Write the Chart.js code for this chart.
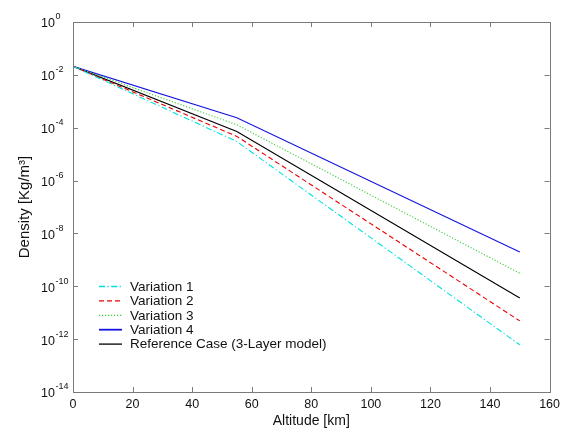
<!DOCTYPE html>
<html lang="en">
<head>
    <meta charset="UTF-8">
    <title>Density vs Altitude</title>
    <style>
        body {
            margin: 0;
            background: #fff;
        }
        #wrap {
            width: 565px;
            height: 431px;
        }
    </style>
</head>
<body>
    <div id="wrap"><canvas id="densityChart" width="565" height="431"></canvas></div>

    <script src="https://cdn.jsdelivr.net/npm/chart.js@4.4.3/dist/chart.umd.min.js"></script>
    <script>
        // altitude breakpoints [km] and densities [kg/m3]
        const altitude = [0, 55, 150];
        const variation1 = [2.1e-2, 3.0e-5, 6.1e-13];
        const variation2 = [2.1e-2, 4.7e-5, 4.9e-12];
        const variation3 = [2.1e-2, 1.3e-4, 3.1e-10];
        const variation4 = [2.1e-2, 2.4e-4, 2.0e-9];
        const referenceCase = [2.1e-2, 7.2e-5, 3.6e-11];

        const seriesLabels = ['Variation 1', 'Variation 2', 'Variation 3', 'Variation 4', 'Reference Case (3-Layer model)'];
        const xTicks = [0, 20, 40, 60, 80, 100, 120, 140, 160];
        const yExponents = [0, -2, -4, -6, -8, -10, -12, -14];

        const FONT = '"Liberation Sans", Arial, sans-serif';
        const AXIS_COLOR = '#7a7a7a';

        function toPoints(values) {
            return values.map((v, i) => ({ x: altitude[i], y: v }));
        }

        function makeDataset(label, values, color, dash) {
            return {
                label: label,
                data: toPoints(values),
                borderColor: color,
                borderWidth: 1.1,
                borderDash: dash,
                pointRadius: 0,
                fill: false,
                tension: 0
            };
        }

        const datasets = [
            makeDataset(seriesLabels[0], variation1, '#00e0e0', [6, 2.5, 1.2, 2.5]),
            makeDataset(seriesLabels[1], variation2, '#e80000', [5, 3]),
            makeDataset(seriesLabels[2], variation3, '#3ad03a', [1.2, 1.8]),
            makeDataset(seriesLabels[3], variation4, '#1414e0', []),
            makeDataset(seriesLabels[4], referenceCase, '#000000', [])
        ];

        // matlab style box, inward ticks, 10^n labels and legend
        const matlabAxes = {
            id: 'matlabAxes',
            afterDraw(chart) {
                const ctx = chart.ctx;
                const area = chart.chartArea;
                const xs = chart.scales.x;
                const ys = chart.scales.y;
                const tl = 5;

                ctx.save();
                ctx.strokeStyle = AXIS_COLOR;
                ctx.lineWidth = 1;
                ctx.setLineDash([]);
                ctx.strokeRect(Math.round(area.left) + 0.5, Math.round(area.top) + 0.5,
                    Math.round(area.right - area.left), Math.round(area.bottom - area.top));

                ctx.beginPath();
                xTicks.forEach(t => {
                    const px = Math.round(xs.getPixelForValue(t)) + 0.5;
                    ctx.moveTo(px, area.bottom);
                    ctx.lineTo(px, area.bottom - tl);
                    ctx.moveTo(px, area.top);
                    ctx.lineTo(px, area.top + tl);
                });
                yExponents.forEach(e => {
                    const py = Math.round(ys.getPixelForValue(Math.pow(10, e))) + 0.5;
                    ctx.moveTo(area.left, py);
                    ctx.lineTo(area.left + tl, py);
                    ctx.moveTo(area.right, py);
                    ctx.lineTo(area.right - tl, py);
                });
                ctx.stroke();

                // y tick labels
                ctx.fillStyle = '#111';
                ctx.textBaseline = 'middle';
                yExponents.forEach(e => {
                    const py = ys.getPixelForValue(Math.pow(10, e));
                    ctx.font = '12.5px ' + FONT;
                    ctx.textAlign = 'right';
                    ctx.fillText('10', 55, py + 2);
                    ctx.font = '9px ' + FONT;
                    ctx.textAlign = 'left';
                    ctx.fillText(String(e), 55.5, py - 5);
                });

                // legend
                const rowY = 286.5;
                const rowGap = 14.4;
                chart.data.datasets.forEach((ds, i) => {
                    const y = rowY + i * rowGap;
                    ctx.strokeStyle = ds.borderColor;
                    ctx.lineWidth = i === 3 ? 1.8 : 1.3;
                    ctx.setLineDash(ds.borderDash);
                    ctx.beginPath();
                    ctx.moveTo(99, y);
                    ctx.lineTo(122, y);
                    ctx.stroke();
                    ctx.setLineDash([]);
                    ctx.fillStyle = '#111';
                    ctx.font = '13.5px ' + FONT;
                    ctx.textAlign = 'left';
                    ctx.fillText(ds.label, 130, y + 0.5);
                });
                ctx.restore();
            }
        };

        new Chart(document.getElementById('densityChart'), {
            type: 'line',
            data: { datasets: datasets },
            options: {
                responsive: false,
                animation: false,
                layout: { padding: { top: 22, right: 14, left: 0, bottom: 0 } },
                plugins: {
                    legend: { display: false },
                    tooltip: { enabled: false }
                },
                scales: {
                    x: {
                        type: 'linear',
                        min: 0,
                        max: 160,
                        afterBuildTicks: scale => {
                            scale.ticks = xTicks.map(v => ({ value: v }));
                        },
                        afterFit: scale => { scale.height = 39; },
                        grid: { display: false, drawTicks: false },
                        border: { display: false },
                        ticks: {
                            color: '#111',
                            padding: 5,
                            maxRotation: 0,
                            font: { family: FONT, size: 12.5 }
                        },
                        title: {
                            display: true,
                            text: 'Altitude [km]',
                            color: '#111',
                            padding: { top: 0, bottom: 1 },
                            font: { family: FONT, size: 14 }
                        }
                    },
                    y: {
                        type: 'logarithmic',
                        min: 1e-14,
                        max: 1,
                        afterFit: scale => { scale.width = 73; },
                        grid: { display: false, drawTicks: false },
                        border: { display: false },
                        ticks: { display: false },
                        title: {
                            display: true,
                            text: 'Density [Kg/m³]',
                            color: '#111',
                            padding: { top: 16, bottom: 0 },
                            font: { family: FONT, size: 15 }
                        }
                    }
                }
            },
            plugins: [matlabAxes]
        });
    </script>
</body>
</html>
